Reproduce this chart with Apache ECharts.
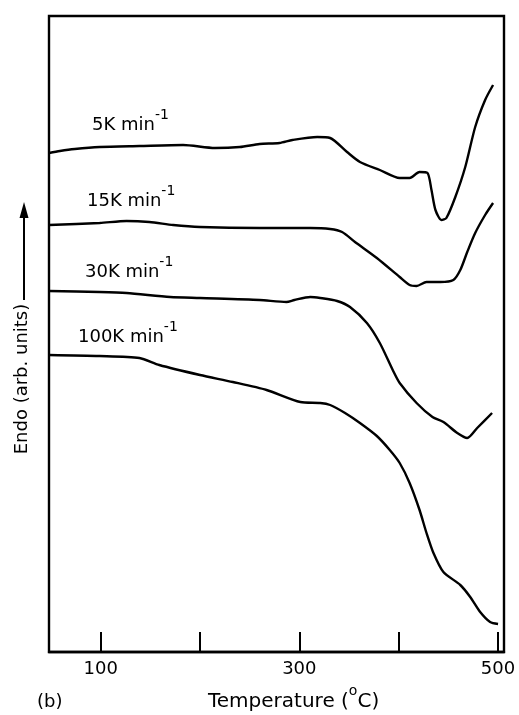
<!DOCTYPE html>
<html>
<head>
<meta charset="utf-8">
<script src="https://cdn.jsdelivr.net/npm/echarts@6/dist/echarts.min.js"></script>
<style>
    html,body{margin:0;padding:0;background:#fff;}
    #chart{width:519px;height:715px;}
</style>
</head>
<body>
<div id="chart"></div>
<script>
    // temperatures (°C) and signal (arb. units)
    var t5 = [48, 59, 74, 99, 139, 183, 215, 240, 260, 280, 293, 318, 331, 348, 361, 381, 401, 411, 421, 429, 433, 437, 443, 448, 457, 467, 477, 487, 495];
    var y5 = [499, 501, 503, 505, 506, 507, 504, 505, 508, 509, 512, 515, 514, 500, 490, 482, 474, 474, 480, 479, 462, 442, 432, 434, 455, 485, 525, 552, 567];

    var t15 = [48, 99, 126, 149, 173, 200, 260, 311, 331, 343, 356, 378, 401, 411, 418, 428, 442, 455, 462, 469, 477, 487, 495];
    var y15 = [427, 429, 431, 430, 427, 425, 424, 424, 423, 420, 410, 394, 375, 367, 366, 370, 370, 372, 382, 400, 419, 437, 449];

    var t30 = [48, 99, 126, 170, 200, 260, 287, 295, 311, 321, 338, 351, 368, 381, 394, 401, 418, 434, 445, 459, 469, 479, 494];
    var y30 = [361, 360, 359, 355, 354, 352, 350, 352, 355, 354, 351, 345, 329, 309, 282, 269, 249, 235, 230, 219, 214, 224, 239];

    var t100 = [48, 99, 139, 159, 200, 233, 267, 301, 321, 331, 346, 361, 378, 391, 401, 411, 421, 428, 435, 445, 462, 472, 482, 492, 500];
    var y100 = [297, 296, 294, 287, 277, 270, 262, 250, 249, 247, 239, 229, 216, 202, 189, 169, 142, 119, 99, 80, 67, 55, 40, 30, 28];

    var rates = ['5K', '15K', '30K', '100K'];
    var xTicks = [100, 200, 300, 400, 500];
    var xLabels = [100, 300, 500];

    function pairs(t, y){
        var out = [];
        for(var i = 0; i < t.length; i++){
            out.push([t[i], y[i]]);
        }
        return out;
    }

    var font = 'DejaVu Sans';
    var supRich = {
        a: {fontSize: 18, fontFamily: font, fill: '#000', lineHeight: 26, verticalAlign: 'bottom'},
        s: {fontSize: 14, fontFamily: font, fill: '#000', lineHeight: 14, verticalAlign: 'top'}
    };
    function curve(name, t, y){
        return {
            name: name + ' min-1',
            type: 'line',
            data: pairs(t, y),
            smooth: 0.25,
            showSymbol: false,
            lineStyle: {color: '#000', width: 2.4},
            z: 3
        };
    }
    function rateLabel(x, y, r){
        return {
            type: 'text', x: x, y: y,
            style: {text: '{a|' + r + ' min}{s|-1}', rich: supRich, verticalAlign: 'middle'}
        };
    }

    var chart = echarts.init(document.getElementById('chart'));
    chart.setOption({
        animation: false,
        backgroundColor: '#fff',
        grid: {
            left: 49, right: 15, top: 16, bottom: 63,
            show: true,
            borderColor: '#000',
            borderWidth: 2.4
        },
        xAxis: {
            type: 'value',
            min: 48,
            max: 506,
            axisLine: {lineStyle: {color: '#000', width: 2.4}},
            axisTick: {
                customValues: xTicks,
                inside: true,
                length: 20,
                lineStyle: {color: '#000', width: 2}
            },
            axisLabel: {
                customValues: xLabels,
                color: '#000',
                fontFamily: font,
                fontSize: 18,
                margin: 8
            },
            splitLine: {show: false}
        },
        yAxis: {
            type: 'value',
            min: 0,
            max: 636,
            axisLine: {show: false},
            axisTick: {show: false},
            axisLabel: {show: false},
            splitLine: {show: false}
        },
        series: [
            curve(rates[0], t5, y5),
            curve(rates[1], t15, y15),
            curve(rates[2], t30, y30),
            curve(rates[3], t100, y100)
        ],
        graphic: [
            rateLabel(92, 121, rates[0]),
            rateLabel(87, 197, rates[1]),
            rateLabel(85, 268, rates[2]),
            rateLabel(78, 333, rates[3]),
            {type: 'text', x: 37, y: 702, style: {text: '(b)', fontSize: 18, fontFamily: font, fill: '#000', verticalAlign: 'middle'}},
            {
                type: 'text', x: 208, y: 698,
                style: {
                    text: '{a|Temperature (}{s|o}{a|C)}',
                    verticalAlign: 'middle',
                    rich: {
                        a: {fontSize: 20, fontFamily: font, fill: '#000', lineHeight: 27, verticalAlign: 'bottom'},
                        s: {fontSize: 14, fontFamily: font, fill: '#000', lineHeight: 14, verticalAlign: 'top'}
                    }
                }
            },
            {
                type: 'text', x: 22, y: 379, rotation: Math.PI / 2,
                style: {text: 'Endo (arb. units)', fontSize: 18, fontFamily: font, fill: '#000', align: 'center', verticalAlign: 'middle'}
            },
            {type: 'line', shape: {x1: 24, y1: 300, x2: 24, y2: 214}, style: {stroke: '#000', lineWidth: 2}},
            {type: 'polygon', shape: {points: [[24, 202], [19.5, 218], [28.5, 218]]}, style: {fill: '#000'}}
        ]
    });
</script>
</body>
</html>
